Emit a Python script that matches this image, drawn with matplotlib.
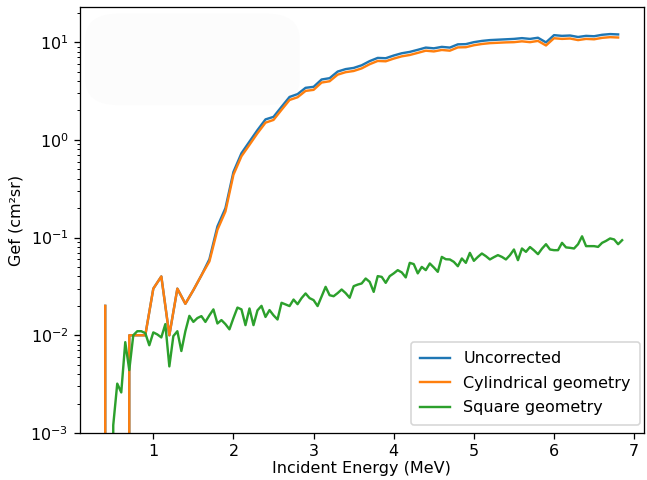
import numpy as np
import matplotlib
matplotlib.use("Agg")
import matplotlib.pyplot as plt
from matplotlib.patches import FancyBboxPatch

# ===============================
# data
# ===============================
energy_coarse = np.round(np.arange(0.4, 6.8001, 0.1), 2)   # 65 points
energy_fine = np.round(np.arange(0.4, 6.8501, 0.05), 2)    # 130 points

uncorrected = [
    0.02, 0, 0, 0.01, 0.01, 0.01, 0.030, 0.040, 0.010, 0.030,
    0.021, 0.029, 0.041, 0.060, 0.130, 0.200, 0.47, 0.73, 0.96, 1.26,
    1.62, 1.72, 2.18, 2.75, 2.94, 3.41, 3.49, 4.15, 4.28, 5.0,
    5.3, 5.45, 5.8, 6.4, 6.9, 6.85, 7.3, 7.7, 7.95, 8.35,
    8.8, 8.65, 8.95, 8.8, 9.5, 9.55, 10.0, 10.3, 10.5, 10.6,
    10.7, 10.8, 11.0, 10.8, 11.1, 9.95, 11.8, 11.6, 11.7, 11.3,
    11.6, 11.5, 11.9, 12.1, 12.0,
]

cylindrical = [
    0.02, 0, 0, 0.01, 0.01, 0.01, 0.030, 0.040, 0.010, 0.030,
    0.021, 0.029, 0.041, 0.057, 0.120, 0.185, 0.44, 0.68, 0.89, 1.17,
    1.50, 1.60, 2.03, 2.56, 2.73, 3.17, 3.25, 3.86, 3.98, 4.65,
    4.93, 5.07, 5.39, 5.95, 6.42, 6.37, 6.79, 7.16, 7.39, 7.77,
    8.18, 8.04, 8.32, 8.18, 8.84, 8.88, 9.30, 9.58, 9.77, 9.86,
    9.95, 10.0, 10.2, 10.0, 10.3, 9.25, 10.97, 10.8, 10.9, 10.5,
    10.8, 10.7, 11.07, 11.25, 11.16,
]

square = [
    0, 0, 0.0012, 0.0032, 0.0026, 0.0085, 0.0044, 0.0100, 0.0110, 0.0110,
    0.0105, 0.0079, 0.0107, 0.0102, 0.0095, 0.0130, 0.0048, 0.0098, 0.0110, 0.0069,
    0.0110, 0.0158, 0.0137, 0.0150, 0.0157, 0.0137, 0.0160, 0.0184, 0.0132, 0.0143,
    0.0130, 0.0115, 0.0150, 0.0192, 0.0184, 0.0127, 0.0188, 0.0127, 0.0180, 0.0200,
    0.0154, 0.0181, 0.0160, 0.0145, 0.0215, 0.0207, 0.0199, 0.0232, 0.0208, 0.0240,
    0.0268, 0.0240, 0.0229, 0.0199, 0.0250, 0.0313, 0.0257, 0.0251, 0.0270, 0.0294,
    0.0270, 0.0242, 0.0318, 0.0330, 0.0339, 0.0381, 0.0352, 0.0278, 0.0403, 0.0396,
    0.0344, 0.0403, 0.0430, 0.0464, 0.0440, 0.0391, 0.0551, 0.0535, 0.0430, 0.0501,
    0.0464, 0.0543, 0.0495, 0.0446, 0.0634, 0.0600, 0.0597, 0.0564, 0.0509, 0.0611,
    0.0551, 0.0697, 0.0578, 0.0634, 0.0687, 0.0645, 0.0597, 0.0630, 0.0661, 0.0634,
    0.0597, 0.0660, 0.0755, 0.0587, 0.0773, 0.0714, 0.0800, 0.0740, 0.0676, 0.0770,
    0.0855, 0.0755, 0.0743, 0.0743, 0.0883, 0.0793, 0.0785, 0.0773, 0.0855, 0.1030,
    0.0817, 0.0817, 0.0817, 0.0803, 0.0883, 0.0925, 0.0980, 0.0957, 0.0855, 0.0940,
]

# ===============================
# figure
# ===============================
DPI = 115
fig = plt.figure(figsize=(647 / DPI, 480 / DPI), dpi=DPI)
ax = fig.add_axes([0.123, 0.098, 0.872, 0.887])

# faint rounded patch in the upper left of the reference
ax.add_patch(FancyBboxPatch((0.01, 0.77), 0.38, 0.215, boxstyle="round,pad=0.0,rounding_size=0.06",
                            transform=ax.transAxes, facecolor="#fcfcfc", edgecolor="none", zorder=0))

ax.plot(energy_coarse, uncorrected, label="Uncorrected")
ax.plot(energy_coarse, cylindrical, label="Cylindrical geometry")
ax.plot(energy_fine, square, label="Square geometry")

ax.set_yscale("log")
ax.set_ylim(1e-3, 22.8)
ax.set_xlim(0.08, 7.12)
ax.set_xlabel("Incident Energy (MeV)", labelpad=1)
ax.set_ylabel("Gef (cm²sr)")
ax.legend(loc="lower right", bbox_to_anchor=(1.008, 0.0), labelspacing=0.6,
          borderpad=0.6, handlelength=1.9)

fig.savefig("out.png", dpi=DPI)
